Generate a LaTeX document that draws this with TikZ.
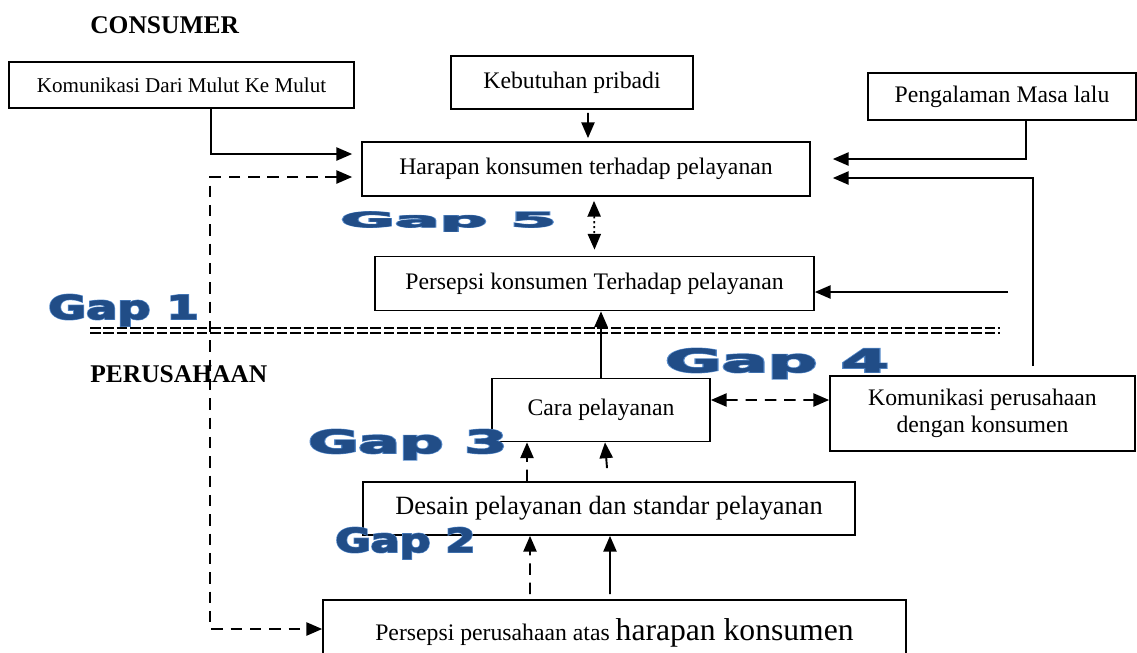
\documentclass[tikz,border=0pt]{standalone}
\usepackage{fontspec}
\setmainfont{Liberation Serif}
\newfontfamily\gapfont{DejaVu Sans}[BoldFeatures={FakeBold=2.5}]
\newfontfamily\gaprimfont{DejaVu Sans}[BoldFeatures={FakeBold=6}]
\usetikzlibrary{arrows.meta}
\definecolor{gapblue}{RGB}{33,77,135}
\definecolor{gaprim}{RGB}{84,136,200}
\newcommand{\gaptext}[3]{\scalebox{#1}[#2]{\bfseries\rlap{\gaprimfont\bfseries\color{gaprim}#3}{\gapfont\bfseries\color{gapblue}#3}}}

\begin{document}
\begin{tikzpicture}[x=0.02cm,y=-0.02cm,>={Triangle[length=9pt,width=7.5pt]},
  box/.style={draw,line width=1pt,inner sep=0pt,align=center,font=\fontsize{13.5}{15.5}\selectfont},
  flow/.style={line width=1.1pt},
  dashflow/.style={line width=1.1pt,dash pattern=on 6.5pt off 4.5pt},
  dotflow/.style={line width=1pt,dash pattern=on 1.2pt off 1.6pt},
  sepline/.style={line width=0.7pt,dash pattern=on 6pt off 1.6pt},
  title/.style={anchor=base west,inner sep=0pt,font=\fontsize{14.5}{16}\selectfont\bfseries},
  gaplabel/.style={anchor=base west,inner sep=0pt,font=\fontsize{18}{18}\selectfont}]
\useasboundingbox (0,0) rectangle (1137,653);

\node[title] (consumer) at (90,33) {CONSUMER};
\node[title] (perusahaan) at (90,382) {PERUSAHAAN};

\node[box,minimum width=6.9cm,minimum height=0.92cm,font=\fontsize{12}{14}\selectfont] (mulut) at (181.5,85) {Komunikasi Dari Mulut Ke Mulut};
\node[box,minimum width=4.84cm,minimum height=1.06cm] (pribadi) at (572,82.5) {Kebutuhan pribadi};
\node[box,minimum width=5.36cm,minimum height=0.94cm] (lalu) at (1002,96.5) {Pengalaman Masa lalu};
\node[box,minimum width=8.96cm,minimum height=1.08cm] (harapan) at (586,169) {Harapan konsumen terhadap pelayanan};
\node[box,minimum width=8.78cm,minimum height=1.08cm] (persepsi) at (594.5,283.5) {Persepsi konsumen Terhadap pelayanan};
\node[box,minimum width=4.36cm,minimum height=1.26cm] (cara) at (601,410) {Cara pelayanan};
\node[box,minimum width=6.1cm,minimum height=1.5cm] (komper) at (982.5,413.5) {Komunikasi perusahaan\\dengan konsumen};
\node[box,minimum width=9.84cm,minimum height=1.06cm,font=\fontsize{15}{18}\selectfont] (desain) at (609,508.5) {Desain pelayanan dan standar pelayanan};
\node[box,minimum width=11.66cm,minimum height=1.3cm] (atas) at (614.5,632.5) {Persepsi perusahaan atas {\fontsize{18}{20}\selectfont harapan konsumen}};

\draw[sepline] (90,328) -- (1000,328);
\draw[sepline] (90,333) -- (1000,333);

\draw[flow,->] ([xshift=0.59cm]mulut.south) |- ([xshift=-0.18cm,yshift=0.3cm]harapan.west);
\draw[dashflow,<->] ([xshift=-0.18cm,yshift=-0.16cm]harapan.west) -| ([xshift=-2.24cm,yshift=0.07cm]atas.west) -- ([yshift=0.07cm]atas.west);
\draw[flow,->] ([xshift=0.32cm,yshift=-0.06cm]pribadi.south) -- ([xshift=0.04cm,yshift=0.06cm]harapan.north);
\draw[flow,->] ([xshift=0.48cm]lalu.south) |- ([xshift=0.44cm,yshift=0.2cm]harapan.east);
\draw[flow,->] ([xshift=1.01cm,yshift=0.18cm]komper.north) |- ([xshift=0.44cm,yshift=-0.18cm]harapan.east);
\coordinate (masuk) at (1008,292);
\draw[flow,->] (masuk) -- (masuk -| persepsi.east);
\draw[dotflow,<->] ([xshift=0.16cm,yshift=-0.08cm]harapan.south) -- ([yshift=0.12cm]persepsi.north);
\draw[flow,->] (cara.north) -- (cara.north |- persepsi.south);
\draw[dashflow,<->] ([yshift=0.2cm]cara.east) -- ([yshift=0.27cm]komper.west);
\draw[dashflow,->] ([xshift=-1.64cm]desain.north) -- ([xshift=-1.48cm]cara.south);
\draw[flow,->] ([xshift=-0.04cm,yshift=0.26cm]desain.north) -- ([xshift=0.08cm]cara.south);
\draw[dashflow,->] ([xshift=-1.69cm,yshift=0.1cm]atas.north) -- ([xshift=-1.58cm]desain.south);
\draw[flow,->] ([xshift=-0.09cm,yshift=0.1cm]atas.north) -- ([xshift=0.02cm]desain.south);

\node[gaplabel] (gap1) at (48,319) {\gaptext{1.46}{1.04}{Gap 1}};
\node[gaplabel] (gap5) at (340,227) {\gaptext{2.1}{0.65}{Gap 5}};
\node[gaplabel] (gap4) at (665,372) {\gaptext{2.17}{1.0}{Gap 4}};
\node[gaplabel] (gap3) at (308,453) {\gaptext{1.93}{1.0}{Gap 3}};
\node[gaplabel] (gap2) at (335,552) {\gaptext{1.36}{1.04}{Gap 2}};
\end{tikzpicture}
\end{document}
